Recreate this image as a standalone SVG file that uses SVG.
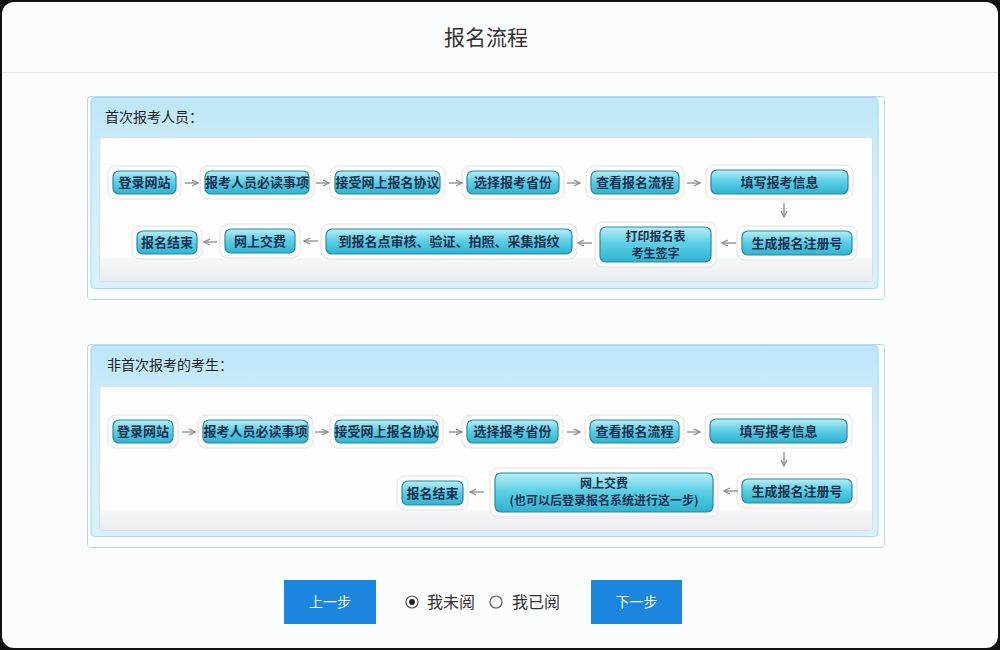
<svg xmlns="http://www.w3.org/2000/svg" width="1000" height="650" viewBox="0 0 1000 650">
<defs>
<linearGradient id="ng" x1="0" y1="0" x2="0" y2="1">
<stop offset="0" stop-color="#b9eef7"/>
<stop offset="0.45" stop-color="#5fd0e6"/>
<stop offset="1" stop-color="#2db3d2"/>
</linearGradient>
<linearGradient id="pg" x1="0" y1="0" x2="0" y2="1">
<stop offset="0" stop-color="#bde6f9"/>
<stop offset="0.3" stop-color="#cdedfb"/>
<stop offset="1" stop-color="#d9f1fc"/>
</linearGradient>
<linearGradient id="bg" x1="0" y1="0" x2="0" y2="1">
<stop offset="0" stop-color="#f6f7f8"/>
<stop offset="1" stop-color="#e9ecef"/>
</linearGradient>
<marker id="ah" viewBox="0 0 8 8" refX="7" refY="4" markerWidth="8" markerHeight="8" markerUnits="userSpaceOnUse" orient="auto">
<path d="M1,1 L7,4 L1,7" fill="none" stroke="#8a8a8a" stroke-width="1.3"/>
</marker>
<style>
.halo{fill:#fdfdfd;stroke:#e2e2e2;stroke-width:1}
.node{fill:url(#ng);stroke:#2a87a2;stroke-width:1.2}
.nt{font-family:"Noto Sans CJK SC","Noto Sans",sans-serif;font-size:13px;font-weight:bold;fill:#17304f;text-anchor:middle}
.nt2{font-family:"Noto Sans CJK SC","Noto Sans",sans-serif;font-size:12px;font-weight:bold;fill:#17304f;text-anchor:middle}
.ph{font-family:"Noto Sans CJK SC","Noto Sans",sans-serif;font-size:14px;fill:#222}
.conn line{stroke:#8a8a8a;stroke-width:1.3;marker-end:url(#ah)}
.btn{fill:#1a86e0}
.bt{font-family:"Noto Sans CJK SC","Noto Sans",sans-serif;font-size:14px;fill:#fff;text-anchor:middle}
.rt{font-family:"Noto Sans CJK SC","Noto Sans",sans-serif;font-size:16px;fill:#333}
</style>
</defs>
<rect x="0" y="0" width="1000" height="650" fill="#111"/>
<rect x="2" y="2" width="996" height="646" rx="12" fill="#fbfcfd"/>
<line x1="2" y1="72.5" x2="998" y2="72.5" stroke="#e8e9ea" stroke-width="1"/>
<text x="486" y="45" text-anchor="middle" font-family="'Noto Sans CJK SC','Noto Sans',sans-serif" font-size="21" fill="#333">报名流程</text>

<!-- Panel 1 -->
<g id="panel1">
<rect x="87.5" y="96.5" width="797" height="203" rx="3" fill="#fdfeff" stroke="#b9d9ea"/>
<rect x="91" y="97.5" width="787" height="191" rx="4" fill="url(#pg)" stroke="#a9d6ee"/>
<rect x="99.5" y="137.5" width="773" height="144" rx="3" fill="#fefefe" stroke="#d8dfe4"/>
<rect x="100" y="258" width="772" height="23" fill="url(#bg)"/>
<text class="ph" x="105" y="122">首次报考人员：</text>
</g>

<!-- Panel 2 -->
<g id="panel2">
<rect x="87.5" y="344.5" width="797" height="203" rx="3" fill="#fdfeff" stroke="#b9d9ea"/>
<rect x="91" y="345.5" width="787" height="191" rx="4" fill="url(#pg)" stroke="#a9d6ee"/>
<rect x="99.5" y="386.5" width="773" height="144" rx="3" fill="#fefefe" stroke="#d8dfe4"/>
<rect x="100" y="510" width="772" height="20" fill="url(#bg)"/>
<text class="ph" x="107" y="370">非首次报考的考生：</text>
</g>

<!-- Panel 1 nodes -->
<g id="p1n1"><rect class="halo" x="108" y="166" width="73" height="33" rx="8"/><rect class="node" x="113" y="171" width="63" height="23" rx="6"/><text class="nt" x="144.5" y="187">登录网站</text></g>
<g id="p1n2"><rect class="halo" x="200" y="166" width="114" height="33" rx="8"/><rect class="node" x="205" y="171" width="104" height="23" rx="6"/><text class="nt" x="257" y="187">报考人员必读事项</text></g>
<g id="p1n3"><rect class="halo" x="330" y="166" width="115" height="33" rx="8"/><rect class="node" x="335" y="171" width="105" height="23" rx="6"/><text class="nt" x="387.5" y="187">接受网上报名协议</text></g>
<g id="p1n4"><rect class="halo" x="462" y="166" width="102" height="33" rx="8"/><rect class="node" x="467" y="171" width="92" height="23" rx="6"/><text class="nt" x="513" y="187">选择报考省份</text></g>
<g id="p1n5"><rect class="halo" x="586" y="166" width="98" height="33" rx="8"/><rect class="node" x="591" y="171" width="88" height="23" rx="6"/><text class="nt" x="635" y="187">查看报名流程</text></g>
<g id="p1n6"><rect class="halo" x="706" y="165" width="147" height="34" rx="8"/><rect class="node" x="711" y="170" width="137" height="24" rx="6"/><text class="nt" x="779.5" y="187">填写报考信息</text></g>
<g id="p1n7"><rect class="halo" x="737" y="226" width="120" height="34" rx="8"/><rect class="node" x="742" y="231" width="110" height="24" rx="6"/><text class="nt" x="797" y="248">生成报名注册号</text></g>
<g id="p1n8"><rect class="halo" x="595" y="222" width="121" height="45" rx="8"/><rect class="node" x="600" y="227" width="111" height="35" rx="6"/><text class="nt2" x="655.5" y="241">打印报名表</text><text class="nt2" x="655.5" y="258">考生签字</text></g>
<g id="p1n9"><rect class="halo" x="321" y="224" width="256" height="35" rx="8"/><rect class="node" x="326" y="229" width="246" height="25" rx="6"/><text class="nt" x="449" y="246">到报名点审核、验证、拍照、采集指纹</text></g>
<g id="p1n10"><rect class="halo" x="220" y="224" width="80" height="34" rx="8"/><rect class="node" x="225" y="229" width="70" height="24" rx="6"/><text class="nt" x="260" y="246">网上交费</text></g>
<g id="p1n11"><rect class="halo" x="132" y="226" width="70" height="33" rx="8"/><rect class="node" x="137" y="231" width="60" height="23" rx="6"/><text class="nt" x="167" y="247">报名结束</text></g>

<!-- Panel 2 nodes -->
<g id="p2n1"><rect class="halo" x="108" y="415" width="70" height="33" rx="8"/><rect class="node" x="113" y="420" width="60" height="23" rx="6"/><text class="nt" x="143" y="436">登录网站</text></g>
<g id="p2n2"><rect class="halo" x="198" y="415" width="115" height="33" rx="8"/><rect class="node" x="203" y="420" width="105" height="23" rx="6"/><text class="nt" x="255.5" y="436">报考人员必读事项</text></g>
<g id="p2n3"><rect class="halo" x="330" y="415" width="113" height="33" rx="8"/><rect class="node" x="335" y="420" width="103" height="23" rx="6"/><text class="nt" x="386.5" y="436">接受网上报名协议</text></g>
<g id="p2n4"><rect class="halo" x="462" y="415" width="101" height="33" rx="8"/><rect class="node" x="467" y="420" width="91" height="23" rx="6"/><text class="nt" x="512.5" y="436">选择报考省份</text></g>
<g id="p2n5"><rect class="halo" x="585" y="415" width="99" height="33" rx="8"/><rect class="node" x="590" y="420" width="89" height="23" rx="6"/><text class="nt" x="634.5" y="436">查看报名流程</text></g>
<g id="p2n6"><rect class="halo" x="705" y="414" width="147" height="34" rx="8"/><rect class="node" x="710" y="419" width="137" height="24" rx="6"/><text class="nt" x="778.5" y="436">填写报考信息</text></g>
<g id="p2n7"><rect class="halo" x="737" y="474" width="120" height="34" rx="8"/><rect class="node" x="742" y="479" width="110" height="24" rx="6"/><text class="nt" x="797" y="496">生成报名注册号</text></g>
<g id="p2n8"><rect class="halo" x="490" y="468" width="228" height="49" rx="8"/><rect class="node" x="495" y="473" width="218" height="39" rx="6"/><text class="nt2" x="604" y="488">网上交费</text><text class="nt2" x="604" y="505">(也可以后登录报名系统进行这一步)</text></g>
<g id="p2n9"><rect class="halo" x="397" y="476" width="71" height="34" rx="8"/><rect class="node" x="402" y="481" width="61" height="24" rx="6"/><text class="nt" x="432.5" y="498">报名结束</text></g>

<!-- Connectors -->
<g id="connectors" class="conn">
<line x1="185" y1="183" x2="198" y2="183"/>
<line x1="316" y1="183" x2="329" y2="183"/>
<line x1="449" y1="183" x2="462" y2="183"/>
<line x1="567" y1="183" x2="580" y2="183"/>
<line x1="687" y1="183" x2="700" y2="183"/>
<line x1="784" y1="203" x2="784" y2="217"/>
<line x1="736" y1="243" x2="722" y2="243"/>
<line x1="592" y1="243" x2="578" y2="243"/>
<line x1="318" y1="241" x2="304" y2="241"/>
<line x1="217" y1="242" x2="204" y2="242"/>

<line x1="182" y1="432" x2="195" y2="432"/>
<line x1="315" y1="432" x2="328" y2="432"/>
<line x1="449" y1="432" x2="462" y2="432"/>
<line x1="567" y1="432" x2="580" y2="432"/>
<line x1="687" y1="432" x2="700" y2="432"/>
<line x1="784" y1="452" x2="784" y2="466"/>
<line x1="738" y1="491" x2="724" y2="491"/>
<line x1="484" y1="492" x2="470" y2="492"/>
</g>

<!-- Controls -->
<g id="btn-prev"><rect class="btn" x="284" y="580" width="92" height="44"/><text class="bt" x="330" y="607">上一步</text></g>
<g id="radio1"><circle cx="412" cy="602" r="6" fill="#fff" stroke="#555" stroke-width="1.2"/><circle cx="412" cy="602" r="3" fill="#222"/><text class="rt" x="427" y="608">我未阅</text></g>
<g id="radio2"><circle cx="496" cy="602" r="6" fill="#fff" stroke="#555" stroke-width="1.2"/><text class="rt" x="512" y="608">我已阅</text></g>
<g id="btn-next"><rect class="btn" x="591" y="580" width="91" height="44"/><text class="bt" x="636.5" y="607">下一步</text></g>
</svg>
